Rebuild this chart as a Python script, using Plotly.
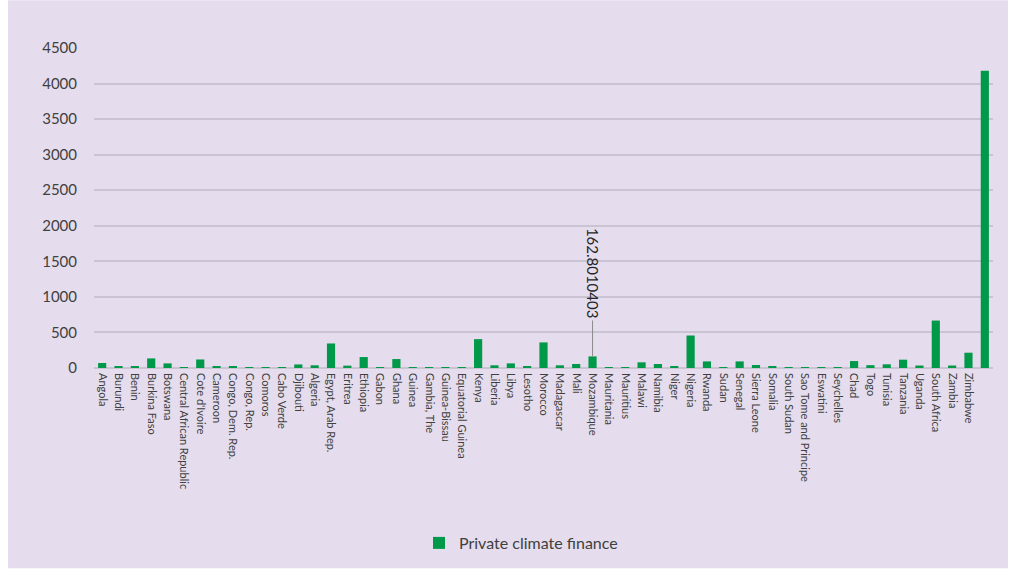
import plotly.graph_objects as go

# Private climate finance by country (the final, unlabelled column is the aggregate)
countries = [
    "Angola", "Burundi", "Benin", "Burkina Faso", "Botswana",
    "Central African Republic", "Cote d'Ivoire", "Cameroon", "Congo, Dem. Rep.",
    "Congo, Rep.", "Comoros", "Cabo Verde", "Djibouti", "Algeria",
    "Egypt, Arab Rep.", "Eritrea", "Ethiopia", "Gabon", "Ghana", "Guinea",
    "Gambia, The", "Guinea-Bissau", "Equatorial Guinea", "Kenya", "Liberia",
    "Libya", "Lesotho", "Morocco", "Madagascar", "Mali", "Mozambique",
    "Mauritania", "Mauritius", "Malawi", "Namibia", "Niger", "Nigeria",
    "Rwanda", "Sudan", "Senegal", "Sierra Leone", "Somalia", "South Sudan",
    "Sao Tome and Principe", "Eswatini", "Seychelles", "Chad", "Togo",
    "Tunisia", "Tanzania", "Uganda", "South Africa", "Zambia", "Zimbabwe", " ",
]
finance = [
    70, 15, 15, 135, 65,
    10, 120, 25, 25,
    12, 5, 10, 50, 38,
    345, 33, 154, 12, 126, 10,
    10, 5, 10, 406, 38,
    65, 20, 360, 38, 56, 162.8010403,
    5, 5, 80, 56, 25, 457,
    93, 12, 93, 42, 25, 12,
    10, 10, 8, 98, 40,
    52, 117, 35, 667, 35, 215, 4180,
]
highlight_country = "Mozambique"
highlight_label = "162.8010403"

BAR_GREEN = "#00994A"
BG = "#E5DDED"
GRID = "#C9C3D2"
TEXT = "#404040"

fig = go.Figure()
fig.add_trace(go.Bar(
    x=countries,
    y=finance,
    name="Private climate finance",
    marker=dict(color=BAR_GREEN, line=dict(width=0)),
))

# plot area geometry in pixels, used to place the lavender chart panel
W, H = 1016, 570
ML, MR, MT, MB = 94, 23, 48, 201
pw, ph = W - ML - MR, H - MT - MB

def px_x(p):
    return (p - ML) / pw

def px_y(p):
    return (H - MB - p) / ph

fig.add_shape(
    type="rect", xref="paper", yref="paper",
    x0=px_x(8), x1=px_x(1008), y0=px_y(570), y1=px_y(0),
    fillcolor=BG, line=dict(width=0), layer="below",
)

hi_val = finance[countries.index(highlight_country)]
fig.add_annotation(
    x=highlight_country, y=hi_val, text=highlight_label,
    textangle=90, showarrow=True, arrowhead=0, arrowwidth=1,
    arrowcolor="#8C8C8C", ax=0, ay=-83, standoff=0,
    font=dict(family="Lato", size=15, color="#262626"),
)

fig.update_layout(
    width=W, height=H, autosize=False,
    margin=dict(l=ML, r=MR, t=MT, b=MB),
    paper_bgcolor="white",
    plot_bgcolor="rgba(0,0,0,0)",
    bargap=0.5,
    showlegend=True,
    legend=dict(
        orientation="h", x=px_x(419), xanchor="left",
        y=px_y(543), yanchor="middle",
        font=dict(family="Lato", size=16, color=TEXT),
        bgcolor="rgba(0,0,0,0)",
    ),
    font=dict(family="Lato", color=TEXT),
)
fig.update_xaxes(
    type="category", tickangle=90, showgrid=False, showline=False,
    ticks="", tickfont=dict(family="Lato", size=11, color=TEXT),
    ticklabelstandoff=4,
)
fig.update_yaxes(
    range=[0, 4500], tick0=0, dtick=500, showgrid=True,
    gridcolor=GRID, gridwidth=1.5, zeroline=True, zerolinecolor=GRID,
    zerolinewidth=1.5, showline=False, ticks="",
    tickfont=dict(family="Lato", size=15, color=TEXT),
    ticklabelstandoff=16,
)

fig.write_html("out.html")
